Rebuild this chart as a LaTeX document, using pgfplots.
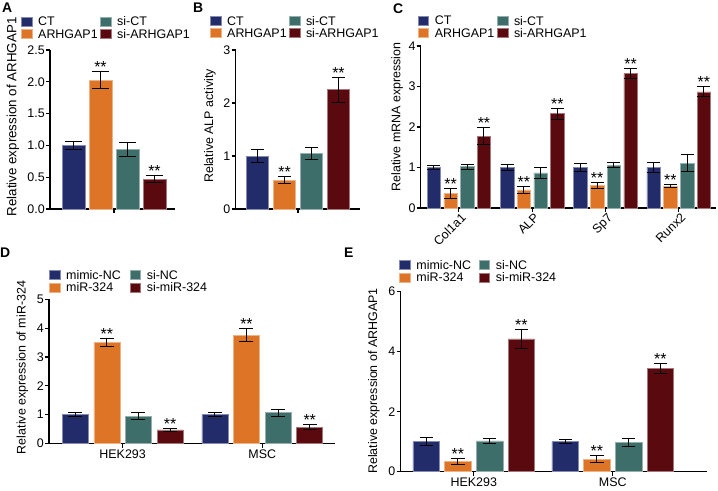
\documentclass[border=0pt]{standalone}
\usepackage{pgfplots}
\pgfplotsset{compat=1.18}
\usepackage{fontspec}
\setmainfont{Liberation Sans}
\definecolor{cnavy}{RGB}{34,44,107}
\definecolor{corange}{RGB}{222,117,38}
\definecolor{cteal}{RGB}{62,110,106}
\definecolor{cred}{RGB}{90,10,15}
\newcommand{\fs}{\fontsize{12.5}{15}\selectfont}
\pgfplotsset{
  base/.style={scale only axis, clip=false, axis lines=left, axis line style={-, line width=1.3pt},
    tick style={line width=1.2pt, black}, major tick length=4bp, tick align=outside,
    /pgf/number format/assume math mode=true,
    tick label style={font=\fs}, label style={font=\fs},
    yticklabel style={inner sep=1pt}, xticklabel style={inner sep=2pt},
    legend style={font=\fs, draw=none, fill=none, inner sep=0pt, anchor=north west,
      row sep=2.8bp, column sep=6bp, nodes={inner sep=0pt, text depth=0pt}, cells={anchor=west}},
    legend columns=2, scaled y ticks=false},
  sq/.style={legend image code/.code={\draw[##1] (0bp,-4.5bp) rectangle (10.5bp,4.5bp);}},
  eb/.style={error bars/.cd, y dir=both, y explicit,
    error bar style={line width=1pt, black},
    error mark options={rotate=90, mark size=#1, line width=1pt, black}},
  stars/.style={draw=none, forget plot, nodes near coords={**},
    every node near coord/.append style={anchor=base, inner sep=0pt, yshift=-1bp,
      font=\fontsize{16}{16}\selectfont, text=black}},
  bN/.style={ybar, bar shift=0pt, fill=cnavy, draw=cnavy!55!white, line width=0.5pt, sq},
  bO/.style={ybar, bar shift=0pt, fill=corange, draw=corange!55!white, line width=0.5pt, sq},
  bT/.style={ybar, bar shift=0pt, fill=cteal, draw=cteal!55!white, line width=0.5pt, sq},
  bR/.style={ybar, bar shift=0pt, fill=cred, draw=cred!55!white, line width=0.5pt, sq},
}
\begin{document}
\begin{tikzpicture}
% ---------------- A
\begin{axis}[base, at={(50bp,282bp)}, anchor=south west, width=125bp, height=159bp,
  xmin=-0.870, xmax=3.759, ymin=0, ymax=2.5, ytick={0,0.5,1,1.5,2,2.5},
  yticklabel style={/pgf/number format/.cd, fixed, fixed zerofill, precision=1},
  xtick={1.5}, xticklabels={}, bar width=23bp,
  ylabel={Relative expression of ARHGAP1},
  ylabel style={at={(axis description cs:-0.296,0.579)}, anchor=center, font=\fontsize{13.4}{15}\selectfont},
  legend style={at={(axis description cs:-0.232,1.2107)}, /tikz/every even column/.append style={column sep=2.5bp}}]
\addplot[bN, eb=8.5] coordinates {(0,1.00) +- (0,0.06)};
\addlegendentry{CT}
\addplot[bT, eb=8.5] coordinates {(2,0.94) +- (0,0.11)};
\addlegendentry{si-CT}
\addplot[bO, eb=8.5] coordinates {(1,2.03) +- (0,0.13)};
\addlegendentry{ARHGAP1}
\addplot[bR, eb=8.5] coordinates {(3,0.47) +- (0,0.05)};
\addlegendentry{si-ARHGAP1}
\addplot[stars] coordinates {(1,2.16) (3,0.52)};
\end{axis}
% ---------------- B
\begin{axis}[base, at={(235.5bp,282bp)}, anchor=south west, width=124.5bp, height=159bp,
  xmin=-0.825, xmax=3.80, ymin=0, ymax=3, ytick={0,1,2,3},
  xtick={1.5}, xticklabels={}, bar width=22bp,
  ylabel={Relative ALP activity},
  ylabel style={at={(axis description cs:-0.205,0.522)}, anchor=center},
  legend style={at={(axis description cs:-0.2048,1.2138)}, /tikz/every even column/.append style={column sep=2.3bp}}]
\addplot[bN, eb=6.5] coordinates {(0,1.00) +- (0,0.12)};
\addlegendentry{CT}
\addplot[bT, eb=6.5] coordinates {(2,1.05) +- (0,0.11)};
\addlegendentry{si-CT}
\addplot[bO, eb=6.5] coordinates {(1,0.55) +- (0,0.07)};
\addlegendentry{ARHGAP1}
\addplot[bR, eb=6.5] coordinates {(3,2.25) +- (0,0.24)};
\addlegendentry{si-ARHGAP1}
\addplot[stars] coordinates {(1,0.62) (3,2.49)};
\end{axis}
% ---------------- C
\begin{axis}[base, at={(420.7bp,283bp)}, anchor=south west, width=295.3bp, height=162bp,
  xmin=-0.521, xmax=3.508, ymin=0, ymax=4, ytick={0,1,2,3,4},
  xtick={0,1,2,3}, xticklabels={Col1a1,ALP,Sp7,Runx2},
  xticklabel style={rotate=45, anchor=north east, inner sep=1pt, xshift=2bp},
  bar width=13.5bp,
  ylabel={Relative mRNA expression},
  ylabel style={at={(axis description cs:-0.080,0.562)}, anchor=center},
  legend style={at={(axis description cs:-0.0102,1.188)}, /tikz/every even column/.append style={column sep=2.6bp}}]
\addplot[bN, eb=6.5] coordinates {(-0.342,1.00) +- (0,0.05) (0.658,1.00) +- (0,0.07) (1.658,1.00) +- (0,0.11) (2.658,1.00) +- (0,0.12)};
\addlegendentry{CT}
\addplot[bT, eb=6.5] coordinates {(0.114,1.02) +- (0,0.065) (1.114,0.87) +- (0,0.14) (2.114,1.06) +- (0,0.06) (3.114,1.11) +- (0,0.21)};
\addlegendentry{si-CT}
\addplot[bO, eb=6.5] coordinates {(-0.114,0.36) +- (0,0.13) (0.886,0.45) +- (0,0.08) (1.886,0.56) +- (0,0.08) (2.886,0.54) +- (0,0.045)};
\addlegendentry{ARHGAP1}
\addplot[bR, eb=6.5] coordinates {(0.342,1.77) +- (0,0.21) (1.342,2.33) +- (0,0.135) (2.342,3.32) +- (0,0.13) (3.342,2.87) +- (0,0.12)};
\addlegendentry{si-ARHGAP1}
\addplot[stars] coordinates {(-0.114,0.49) (0.886,0.53) (1.886,0.64) (2.886,0.585)
  (0.342,1.98) (1.342,2.465) (2.342,3.45) (3.342,2.99)};
\end{axis}
% ---------------- D
\begin{axis}[base, at={(49bp,47.5bp)}, anchor=south west, width=286bp, height=144.2bp,
  xmin=-0.527, xmax=1.521, ymin=0, ymax=5, ytick={0,1,2,3,4,5},
  xtick={0,1}, xticklabels={HEK293,MSC}, bar width=26bp,
  ylabel={Relative expression of miR-324},
  ylabel style={at={(axis description cs:-0.093,0.527)}, anchor=center},
  legend style={at={(axis description cs:0,1.203)}, /tikz/every even column/.append style={column sep=9bp}}]
\addplot[bN, eb=7] coordinates {(-0.340,1.00) +- (0,0.06) (0.660,1.00) +- (0,0.08)};
\addlegendentry{mimic-NC}
\addplot[bT, eb=7] coordinates {(0.113,0.95) +- (0,0.11) (1.113,1.07) +- (0,0.12)};
\addlegendentry{si-NC}
\addplot[bO, eb=7] coordinates {(-0.113,3.51) +- (0,0.13) (0.887,3.75) +- (0,0.23)};
\addlegendentry{miR-324}
\addplot[bR, eb=7] coordinates {(0.340,0.47) +- (0,0.06) (1.340,0.56) +- (0,0.09)};
\addlegendentry{si-miR-324}
\addplot[stars] coordinates {(-0.113,3.64) (0.887,3.98) (0.340,0.53) (1.340,0.65)};
\end{axis}
% ---------------- E
\begin{axis}[base, at={(400.5bp,19.3bp)}, anchor=south west, width=306.2bp, height=180bp,
  xmin=-0.527, xmax=1.676, ymin=0, ymax=6, ytick={0,2,4,6},
  xtick={0,1}, xticklabels={HEK293,MSC}, bar width=26.5bp,
  ylabel={Relative expression of ARHGAP1},
  ylabel style={at={(axis description cs:-0.0865,0.504)}, anchor=center},
  legend style={at={(axis description cs:-0.004,1.176)}, /tikz/every even column/.append style={column sep=7.8bp}}]
\addplot[bN, eb=6.7] coordinates {(-0.342,1.00) +- (0,0.13) (0.658,1.00) +- (0,0.065)};
\addlegendentry{mimic-NC}
\addplot[bT, eb=6.7] coordinates {(0.114,1.03) +- (0,0.08) (1.114,0.975) +- (0,0.12)};
\addlegendentry{si-NC}
\addplot[bO, eb=6.7] coordinates {(-0.114,0.35) +- (0,0.10) (0.886,0.42) +- (0,0.12)};
\addlegendentry{miR-324}
\addplot[bR, eb=6.7] coordinates {(0.342,4.43) +- (0,0.32) (1.342,3.45) +- (0,0.165)};
\addlegendentry{si-miR-324}
\addplot[stars] coordinates {(-0.114,0.45) (0.886,0.54) (0.342,4.75) (1.342,3.62)};
\end{axis}
% panel letters
\begin{scope}[every node/.style={anchor=north west, inner sep=0pt, font=\bfseries\fontsize{14}{14}\selectfont}]
\node at (2bp,488bp) {A};
\node at (193bp,488bp) {B};
\node at (393bp,487bp) {C};
\node at (0bp,243bp) {D};
\node at (344bp,243bp) {E};
\end{scope}
\pgfresetboundingbox
\useasboundingbox (0bp,0bp) rectangle (718bp,491bp);
\end{tikzpicture}
\end{document}
